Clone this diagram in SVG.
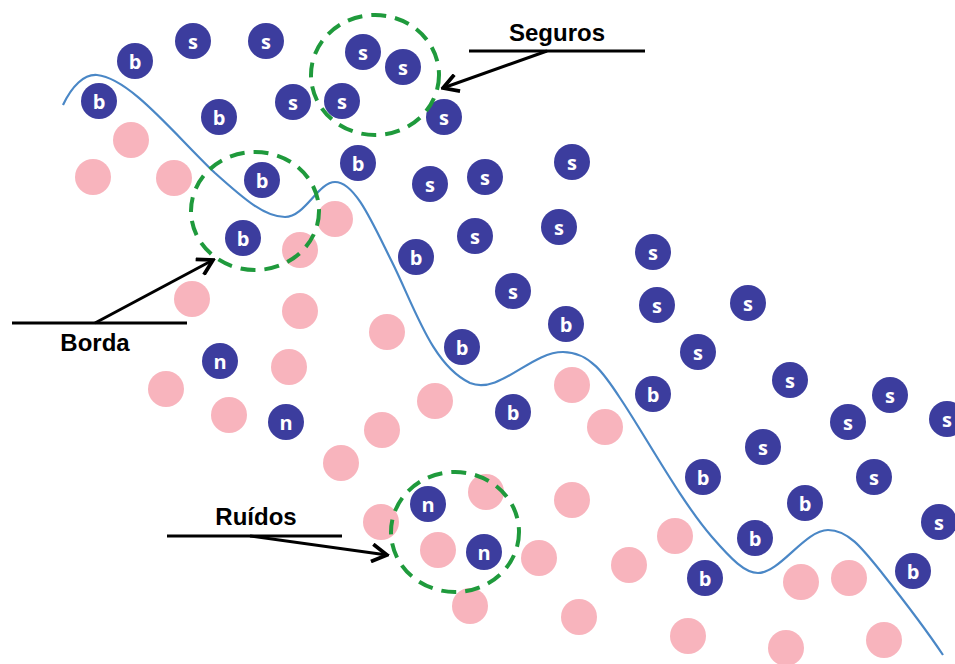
<svg xmlns="http://www.w3.org/2000/svg" width="955" height="664" viewBox="0 0 955 664">
<defs>
<style>
.bl{fill:#3c3d9e}
.pk{fill:#f8b4bd}
.lt{fill:#fff;font-family:"Open Sans","DejaVu Sans",sans-serif;font-weight:bold;font-size:20px;text-anchor:middle;dominant-baseline:central}
.lab{fill:#000;font-family:"Liberation Sans",Arial,sans-serif;font-weight:bold;font-size:24px;text-anchor:middle}
.grp{fill:none;stroke:#1f9a3c;stroke-width:4;stroke-dasharray:15 9}
.ln{fill:none;stroke:#000;stroke-width:3}
.curve{fill:none;stroke:#4a87c6;stroke-width:2.2}
</style>
<marker id="ah" markerUnits="userSpaceOnUse" markerWidth="20" markerHeight="20" viewBox="-14 -8 16 16" refX="0" refY="0" orient="auto">
<path d="M-12,-7 L0,0 L-12,7" fill="none" stroke="#000" stroke-width="3" stroke-linejoin="miter"/>
</marker>
</defs>
<rect width="955" height="664" fill="#fff"/>

<g id="pink-points">
<circle class="pk" cx="131" cy="140" r="18"/>
<circle class="pk" cx="93" cy="177" r="18"/>
<circle class="pk" cx="174" cy="178" r="18"/>
<circle class="pk" cx="335" cy="219" r="18"/>
<circle class="pk" cx="300" cy="250" r="18"/>
<circle class="pk" cx="192" cy="299" r="18"/>
<circle class="pk" cx="300" cy="311" r="18"/>
<circle class="pk" cx="387" cy="332" r="18"/>
<circle class="pk" cx="289" cy="367" r="18"/>
<circle class="pk" cx="166" cy="389" r="18"/>
<circle class="pk" cx="229" cy="415" r="18"/>
<circle class="pk" cx="435" cy="401" r="18"/>
<circle class="pk" cx="382" cy="430" r="18"/>
<circle class="pk" cx="572" cy="385" r="18"/>
<circle class="pk" cx="605" cy="427" r="18"/>
<circle class="pk" cx="341" cy="463" r="18"/>
<circle class="pk" cx="486" cy="492" r="18"/>
<circle class="pk" cx="572" cy="500" r="18"/>
<circle class="pk" cx="381" cy="522" r="18"/>
<circle class="pk" cx="438" cy="550" r="18"/>
<circle class="pk" cx="470" cy="606" r="18"/>
<circle class="pk" cx="675" cy="536" r="18"/>
<circle class="pk" cx="539" cy="558" r="18"/>
<circle class="pk" cx="629" cy="565" r="18"/>
<circle class="pk" cx="801" cy="582" r="18"/>
<circle class="pk" cx="849" cy="578" r="18"/>
<circle class="pk" cx="579" cy="617" r="18"/>
<circle class="pk" cx="688" cy="636" r="18"/>
<circle class="pk" cx="786" cy="648" r="18"/>
<circle class="pk" cx="884" cy="640" r="18"/>
</g>

<g id="b1"><circle class="bl" cx="135" cy="61" r="18"/><text class="lt" x="135" y="61">b</text></g>
<g id="s1"><circle class="bl" cx="193" cy="41" r="18"/><text class="lt" x="193" y="41">s</text></g>
<g id="s2"><circle class="bl" cx="266" cy="41" r="18"/><text class="lt" x="266" y="41">s</text></g>
<g id="s3"><circle class="bl" cx="363" cy="52" r="18"/><text class="lt" x="363" y="52">s</text></g>
<g id="s4"><circle class="bl" cx="403" cy="67" r="18"/><text class="lt" x="403" y="67">s</text></g>
<g id="b2"><circle class="bl" cx="99" cy="101" r="18"/><text class="lt" x="99" y="101">b</text></g>
<g id="b3"><circle class="bl" cx="219" cy="117" r="18"/><text class="lt" x="219" y="117">b</text></g>
<g id="s5"><circle class="bl" cx="293" cy="102" r="18"/><text class="lt" x="293" y="102">s</text></g>
<g id="s6"><circle class="bl" cx="342" cy="101" r="18"/><text class="lt" x="342" y="101">s</text></g>
<g id="s7"><circle class="bl" cx="444" cy="117" r="18"/><text class="lt" x="444" y="117">s</text></g>
<g id="b4"><circle class="bl" cx="358" cy="163" r="18"/><text class="lt" x="358" y="163">b</text></g>
<g id="s8"><circle class="bl" cx="572" cy="162" r="18"/><text class="lt" x="572" y="162">s</text></g>
<g id="b5"><circle class="bl" cx="262" cy="180" r="18"/><text class="lt" x="262" y="180">b</text></g>
<g id="s9"><circle class="bl" cx="430" cy="184" r="18"/><text class="lt" x="430" y="184">s</text></g>
<g id="s10"><circle class="bl" cx="485" cy="177" r="18"/><text class="lt" x="485" y="177">s</text></g>
<g id="b6"><circle class="bl" cx="243" cy="238" r="18"/><text class="lt" x="243" y="238">b</text></g>
<g id="s11"><circle class="bl" cx="475" cy="236" r="18"/><text class="lt" x="475" y="236">s</text></g>
<g id="s12"><circle class="bl" cx="559" cy="227" r="18"/><text class="lt" x="559" y="227">s</text></g>
<g id="b7"><circle class="bl" cx="416" cy="257" r="18"/><text class="lt" x="416" y="257">b</text></g>
<g id="s13"><circle class="bl" cx="653" cy="252" r="18"/><text class="lt" x="653" y="252">s</text></g>
<g id="s14"><circle class="bl" cx="513" cy="291" r="18"/><text class="lt" x="513" y="291">s</text></g>
<g id="s15"><circle class="bl" cx="657" cy="305" r="18"/><text class="lt" x="657" y="305">s</text></g>
<g id="s16"><circle class="bl" cx="748" cy="303" r="18"/><text class="lt" x="748" y="303">s</text></g>
<g id="b8"><circle class="bl" cx="566" cy="324" r="18"/><text class="lt" x="566" y="324">b</text></g>
<g id="b9"><circle class="bl" cx="462" cy="347" r="18"/><text class="lt" x="462" y="347">b</text></g>
<g id="s17"><circle class="bl" cx="698" cy="352" r="18"/><text class="lt" x="698" y="352">s</text></g>
<g id="n1"><circle class="bl" cx="220" cy="361" r="18"/><text class="lt" x="220" y="361">n</text></g>
<g id="s18"><circle class="bl" cx="790" cy="380" r="18"/><text class="lt" x="790" y="380">s</text></g>
<g id="b10"><circle class="bl" cx="653" cy="394" r="18"/><text class="lt" x="653" y="394">b</text></g>
<g id="s19"><circle class="bl" cx="890" cy="395" r="18"/><text class="lt" x="890" y="395">s</text></g>
<g id="b11"><circle class="bl" cx="513" cy="412" r="18"/><text class="lt" x="513" y="412">b</text></g>
<g id="n2"><circle class="bl" cx="286" cy="422" r="18"/><text class="lt" x="286" y="422">n</text></g>
<g id="s20"><circle class="bl" cx="848" cy="422" r="18"/><text class="lt" x="848" y="422">s</text></g>
<g id="s21"><circle class="bl" cx="947" cy="419" r="18"/><text class="lt" x="947" y="419">s</text></g>
<g id="s22"><circle class="bl" cx="763" cy="447" r="18"/><text class="lt" x="763" y="447">s</text></g>
<g id="s23"><circle class="bl" cx="874" cy="477" r="18"/><text class="lt" x="874" y="477">s</text></g>
<g id="b12"><circle class="bl" cx="703" cy="477" r="18"/><text class="lt" x="703" y="477">b</text></g>
<g id="n3"><circle class="bl" cx="428" cy="504" r="18"/><text class="lt" x="428" y="504">n</text></g>
<g id="b13"><circle class="bl" cx="805" cy="503" r="18"/><text class="lt" x="805" y="503">b</text></g>
<g id="s24"><circle class="bl" cx="939" cy="522" r="18"/><text class="lt" x="939" y="522">s</text></g>
<g id="b14"><circle class="bl" cx="755" cy="538" r="18"/><text class="lt" x="755" y="538">b</text></g>
<g id="n4"><circle class="bl" cx="484" cy="552" r="18"/><text class="lt" x="484" y="552">n</text></g>
<g id="b15"><circle class="bl" cx="705" cy="578" r="18"/><text class="lt" x="705" y="578">b</text></g>
<g id="b16"><circle class="bl" cx="913" cy="571" r="18"/><text class="lt" x="913" y="571">b</text></g>

<g id="boundary">
<path class="curve" d="M63,105 C72,86 84,74 97,75 C130,78 175,135 215,173 C245,200 265,217 285,217 C305,217 318,182 335,182 C355,182 372,222 392,262 C415,308 432,365 470,383 C500,395 530,352 563,352 C590,352 605,375 620,398 C645,435 680,500 712,537 C732,560 745,573 758,573 C780,573 805,530 828,530 C848,530 862,548 882,573 C905,602 925,628 943,655"/>
</g>

<g id="group-seguros"><ellipse class="grp" cx="375" cy="75" rx="64" ry="60"/></g>
<g id="group-borda"><ellipse class="grp" cx="255" cy="211" rx="64" ry="59"/></g>
<g id="group-ruidos"><ellipse class="grp" cx="455" cy="532" rx="64" ry="60"/></g>

<g id="connectors">
<line class="ln" x1="469" y1="51" x2="645" y2="51"/>
<line class="ln" x1="547" y1="51" x2="443" y2="88" marker-end="url(#ah)"/>
<line class="ln" x1="12" y1="323" x2="187" y2="323"/>
<line class="ln" x1="95" y1="323" x2="213" y2="260" marker-end="url(#ah)"/>
<line class="ln" x1="167" y1="536" x2="342" y2="536"/>
<line class="ln" x1="250" y1="536" x2="387" y2="555" marker-end="url(#ah)"/>
</g>

<g id="labels">
<text class="lab" x="557" y="41">Seguros</text>
<text class="lab" x="95" y="351">Borda</text>
<text class="lab" x="256" y="525">Ruídos</text>
</g>
</svg>
